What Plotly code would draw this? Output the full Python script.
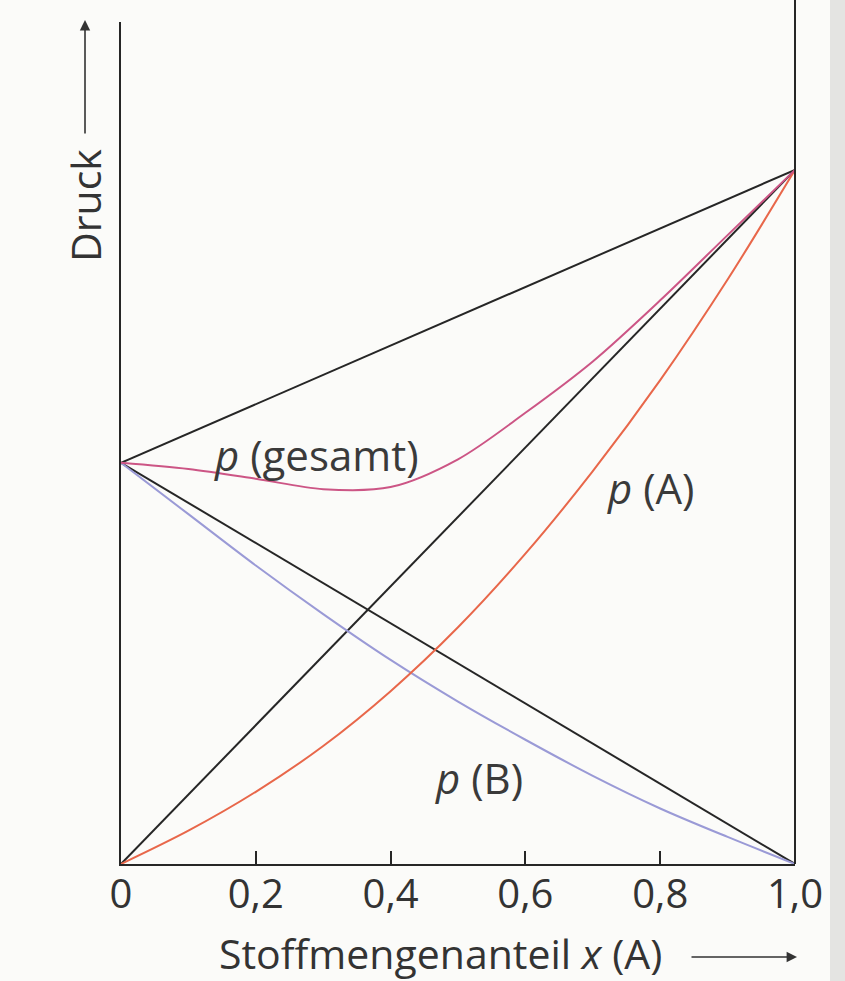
import plotly.graph_objects as go

# ---- data (pressure in units of p*(A)) ----
x_frac = [0.0, 0.1, 0.2, 0.3, 0.4, 0.5, 0.6, 0.7, 0.8, 0.9, 1.0]
p_total = [0.578, 0.569, 0.555, 0.540, 0.543, 0.583, 0.650, 0.724, 0.812, 0.906, 1.0]
p_A = [0.0, 0.048, 0.104, 0.170, 0.249, 0.341, 0.447, 0.566, 0.697, 0.842, 1.0]
p_B = [0.578, 0.504, 0.430, 0.360, 0.294, 0.234, 0.179, 0.127, 0.080, 0.039, 0.0]

x_ends = [0.0, 1.0]
ideal_total = [0.578, 1.0]
ideal_A = [0.0, 1.0]
ideal_B = [0.578, 0.0]

tick_vals = [0, 0.2, 0.4, 0.6, 0.8, 1.0]
tick_text = ["0", "0,2", "0,4", "0,6", "0,8", "1,0"]

BLACK = "#262626"
TEXT = "#333333"
FONT = "Open Sans"

fig = go.Figure()
for yy in (ideal_total, ideal_A, ideal_B):
    fig.add_trace(go.Scatter(x=x_ends, y=yy, mode="lines",
                             line=dict(color=BLACK, width=2), hoverinfo="skip"))
fig.add_trace(go.Scatter(x=x_frac, y=p_B, mode="lines",
                         line=dict(color="#9a9ad6", width=2, shape="spline", smoothing=0.9)))
fig.add_trace(go.Scatter(x=x_frac, y=p_A, mode="lines",
                         line=dict(color="#e8674a", width=2, shape="spline", smoothing=0.9)))
fig.add_trace(go.Scatter(x=x_frac, y=p_total, mode="lines",
                         line=dict(color="#cc5585", width=2, shape="spline", smoothing=0.9)))

fig.update_layout(
    width=845, height=981,
    margin=dict(l=121, r=50, t=22, b=117, autoexpand=False),
    paper_bgcolor="#fbfbf9", plot_bgcolor="#fbfbf9",
    showlegend=False,
    font=dict(family=FONT, color=TEXT, size=40),
    xaxis=dict(range=[0, 1], tickvals=tick_vals, ticktext=tick_text,
               ticks="inside", ticklen=13, tickwidth=2, tickcolor=BLACK,
               showline=True, linecolor=BLACK, linewidth=2,
               showgrid=False, zeroline=False, ticklabelstandoff=-6,
               tickfont=dict(family=FONT, size=40, color=TEXT)),
    yaxis=dict(range=[0, 1.213], showticklabels=False, ticks="",
               showline=True, linecolor=BLACK, linewidth=2,
               showgrid=False, zeroline=False),
)

# page edge at the right side of the photographed page
fig.add_shape(type="rect", xref="paper", yref="paper",
              x0=(830 - 121) / 674, x1=(850 - 121) / 674, y0=-0.2, y1=1.05,
              fillcolor="#e4e4e2", line=dict(width=0), layer="below")

# right-hand vertical line (extends to the top of the page)
fig.add_shape(type="line", xref="paper", yref="paper", x0=1, x1=1, y0=0, y1=1.026,
              line=dict(color=BLACK, width=2))

# curve labels
lab = dict(size=42, color="#3a3a3a", family=FONT)
fig.add_annotation(x=0.29, y=0.59, xref="x", yref="y", showarrow=False,
                   xanchor="center", yanchor="middle",
                   text="<i>p</i> (gesamt)", font=lab)
fig.add_annotation(x=0.786, y=0.542, xref="x", yref="y", showarrow=False,
                   xanchor="center", yanchor="middle",
                   text="<i>p</i> (A)", font=lab)
fig.add_annotation(x=0.531, y=0.125, xref="x", yref="y", showarrow=False,
                   xanchor="center", yanchor="middle",
                   text="<i>p</i> (B)", font=lab)

# axis titles
fig.add_annotation(x=(440 - 121) / 674, y=(864 - 953) / 842, xref="paper", yref="paper",
                   showarrow=False, xanchor="center", yanchor="middle",
                   text="Stoffmengenanteil <i>x</i> (A)", font=dict(size=41, color=TEXT))
fig.add_annotation(x=(85 - 121) / 674, y=(864 - 206) / 842, xref="paper", yref="paper",
                   showarrow=False, xanchor="center", yanchor="middle",
                   text="Druck", textangle=-90, font=dict(size=41, color=TEXT))

# arrows
fig.add_annotation(x=(797 - 121) / 674, y=(864 - 957) / 842, xref="paper", yref="paper",
                   text="", showarrow=True, ax=-107, ay=0, arrowhead=2, arrowsize=1.3,
                   arrowwidth=1.6, arrowcolor=TEXT)
fig.add_annotation(x=(85 - 121) / 674, y=(864 - 20) / 842, xref="paper", yref="paper",
                   text="", showarrow=True, ax=0, ay=115, arrowhead=2, arrowsize=1.3,
                   arrowwidth=1.6, arrowcolor=TEXT)

fig.write_html("out.html", config={"displayModeBar": False},
               post_script="document.body.style.margin='0';document.body.style.padding='0';")
